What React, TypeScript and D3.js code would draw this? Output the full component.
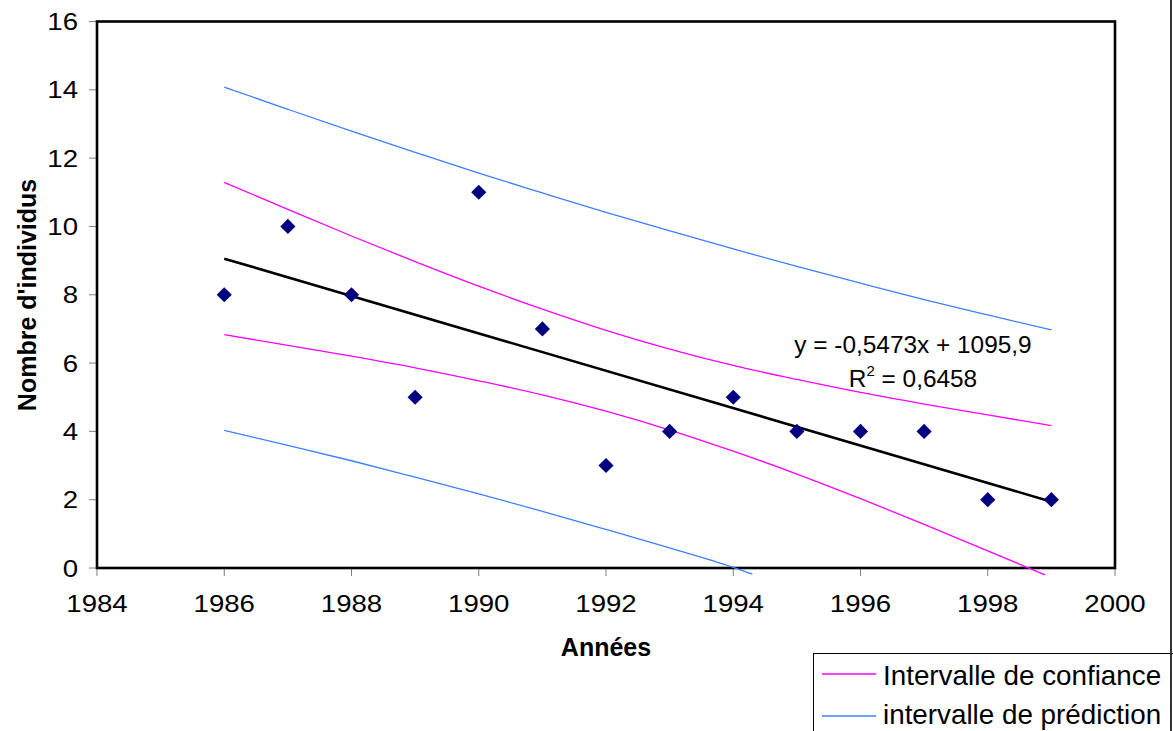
import React from "react";
import * as d3 from "d3";

// ---- Data ----
const years = [1986, 1987, 1988, 1989, 1990, 1991, 1992, 1993, 1994, 1995, 1996, 1997, 1998, 1999];
const counts = [8, 10, 8, 5, 11, 7, 3, 4, 5, 4, 4, 4, 2, 2];

const trendYears = [1986, 1999];
const trendValues = [9.057, 1.943];

const ciUpperYears = [1986, 1987, 1988, 1989, 1990, 1991, 1992, 1993, 1994, 1995, 1996, 1997, 1998, 1999];
const ciUpper = [11.29, 10.5, 9.72, 8.97, 8.25, 7.58, 6.96, 6.41, 5.93, 5.52, 5.14, 4.8, 4.48, 4.17];

const ciLowerYears = [1986, 1987, 1988, 1989, 1990, 1991, 1992, 1993, 1994, 1995, 1996, 1997, 1998, 1998.9];
const ciLower = [6.83, 6.52, 6.2, 5.86, 5.48, 5.07, 4.59, 4.04, 3.42, 2.75, 2.03, 1.28, 0.5, -0.2];

const piUpperYears = [1986, 1987, 1988, 1989, 1990, 1991, 1992, 1993, 1994, 1995, 1996, 1997, 1998, 1999];
const piUpper = [14.08, 13.43, 12.79, 12.17, 11.56, 10.98, 10.41, 9.87, 9.34, 8.83, 8.34, 7.86, 7.41, 6.97];

const piLowerYears = [1986, 1987, 1988, 1989, 1990, 1991, 1992, 1993, 1994, 1994.3];
const piLower = [4.03, 3.59, 3.14, 2.66, 2.17, 1.66, 1.13, 0.59, 0.02, -0.18];

const xTicks = [1984, 1986, 1988, 1990, 1992, 1994, 1996, 1998, 2000];
const yTicks = [0, 2, 4, 6, 8, 10, 12, 14, 16];

const equationText = "y = -0,5473x + 1095,9";
const r2Label = "R";
const r2Sup = "2";
const r2Value = " = 0,6458";
const xTitle = "Années";
const yTitle = "Nombre d'individus";
const legendLabels = ["Intervalle de confiance", "intervalle de prédiction"];

const MAGENTA = "#ff00ff";
const BLUE = "#3f7fff";
const NAVY = "#000080";
const FONT = "'Liberation Sans', Arial, Helvetica, sans-serif";

export default function App() {
  const W = 1173, H = 731;
  const L = 97, R = 1115, T = 21.5, B = 568;
  const x = d3.scaleLinear().domain([1984, 2000]).range([L, R]);
  const y = d3.scaleLinear().domain([0, 16]).range([B, T]);
  const SX = 1.15;

  const line = (xs: number[], vs: number[], curved = true) => {
    const pts = xs.map((d, i) => [d, vs[i]] as [number, number]);
    const g = d3.line<[number, number]>().x(d => x(d[0])).y(d => y(d[1]));
    if (curved) g.curve(d3.curveMonotoneX);
    return g(pts) || "";
  };

  const diamond = d3.symbol().type(d3.symbolSquare).size(115)() || "";

  return (
    <svg width={W} height={H} style={{ position: "absolute", left: 0, top: 0, background: "#fff" }} fontFamily={FONT}>
      <rect x={0} y={0} width={W} height={H} fill="#fff" />
      {/* outer right border */}
      <line x1={1171} x2={1171} y1={0} y2={H} stroke="#333" strokeWidth={2} />

      {/* ticks */}
      {yTicks.map(t => (
        <g key={"y" + t}>
          <line x1={L - 8} x2={L} y1={y(t)} y2={y(t)} stroke="#808080" strokeWidth={1} />
          <text transform={`translate(78,${y(t)}) scale(${SX},1)`} dy="0.36em" textAnchor="end" fontSize={24} fill="#000">{t}</text>
        </g>
      ))}
      {xTicks.map(t => (
        <g key={"x" + t}>
          <line x1={x(t)} x2={x(t)} y1={B} y2={B + 8} stroke="#808080" strokeWidth={1} />
          <text transform={`translate(${x(t)},612) scale(${SX},1)`} textAnchor="middle" fontSize={24} fill="#000">{t}</text>
        </g>
      ))}

      {/* plot frame */}
      <rect x={L} y={T} width={R - L} height={B - T} fill="none" stroke="#000" strokeWidth={2.6} />

      {/* intervals */}
      <path d={line(piUpperYears, piUpper)} fill="none" stroke={BLUE} strokeWidth={1.3} />
      <path d={line(piLowerYears, piLower)} fill="none" stroke={BLUE} strokeWidth={1.3} />
      <path d={line(ciUpperYears, ciUpper)} fill="none" stroke={MAGENTA} strokeWidth={1.3} />
      <path d={line(ciLowerYears, ciLower)} fill="none" stroke={MAGENTA} strokeWidth={1.3} />

      {/* trend line */}
      <path d={line(trendYears, trendValues, false)} fill="none" stroke="#000" strokeWidth={2.6} />

      {/* points */}
      {years.map((yr, i) => (
        <path key={yr} d={diamond} transform={`translate(${x(yr)},${y(counts[i])}) rotate(45)`} fill={NAVY} />
      ))}

      {/* equation */}
      <text x={913} y={353} textAnchor="middle" fontSize={24.4} fill="#000">{equationText}</text>
      <text x={913} y={387} textAnchor="middle" fontSize={24.4} fill="#000">
        {r2Label}
        <tspan fontSize={15} dy={-11}>{r2Sup}</tspan>
        <tspan dy={11}>{r2Value}</tspan>
      </text>

      {/* axis titles */}
      <text x={606} y={656} textAnchor="middle" fontSize={25} fontWeight="bold" fill="#000">{xTitle}</text>
      <text transform={`translate(36,295) rotate(-90)`} textAnchor="middle" fontSize={25} fontWeight="bold" fill="#000">{yTitle}</text>

      {/* legend */}
      <rect x={813.5} y={653.5} width={370} height={100} fill="#fff" stroke="#000" strokeWidth={1} />
      <line x1={1171} x2={1171} y1={653} y2={H} stroke="#333" strokeWidth={2} />
      <line x1={822} x2={876} y1={674} y2={674} stroke={MAGENTA} strokeWidth={1.3} />
      <line x1={822} x2={876} y1={716} y2={716} stroke={BLUE} strokeWidth={1.3} />
      <text x={883} y={685} fontSize={27.8} fill="#000">{legendLabels[0]}</text>
      <text x={883} y={724} fontSize={27.8} fill="#000">{legendLabels[1]}</text>
    </svg>
  );
}
